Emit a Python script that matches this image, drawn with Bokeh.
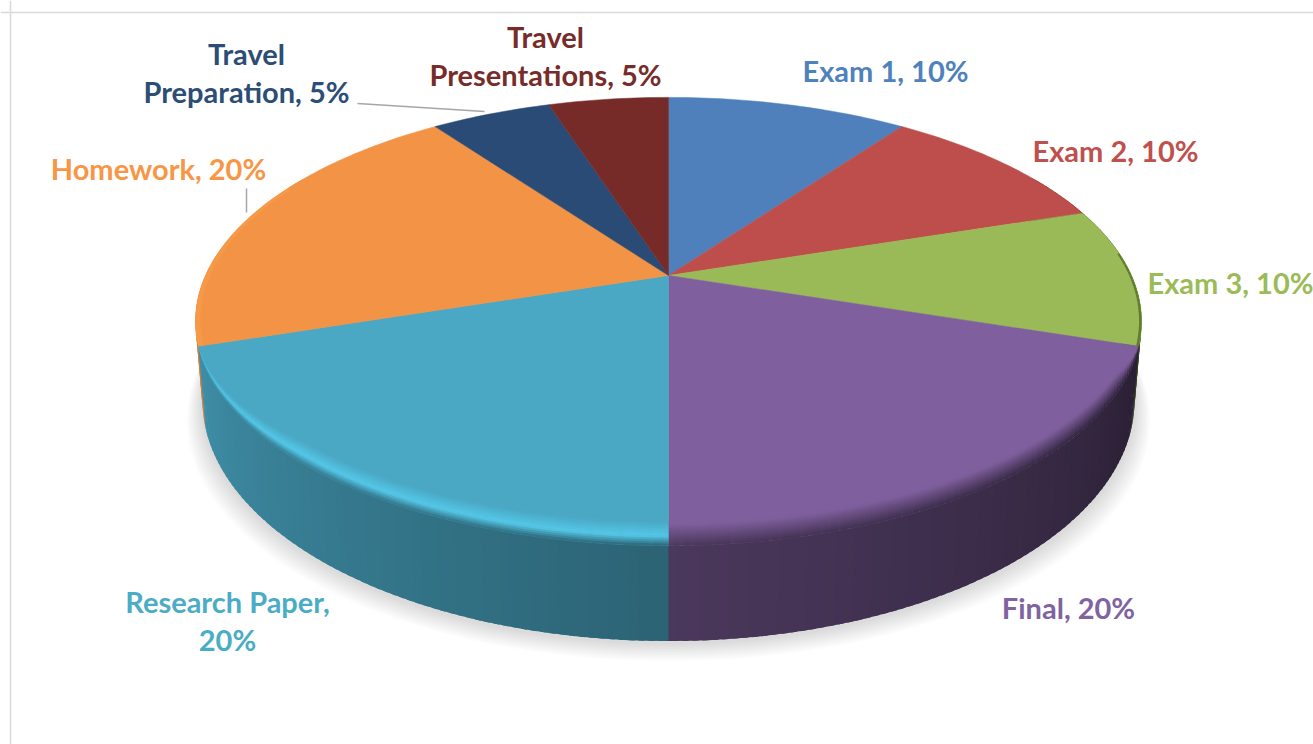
import math
from bokeh.plotting import figure
from bokeh.models import ColumnDataSource, Range1d, Span
from bokeh.core.properties import value
from bokeh.embed import file_html
from bokeh.resources import INLINE

categories = ["Exam 1", "Exam 2", "Exam 3", "Final", "Research Paper", "Homework",
              "Travel Preparation", "Travel Presentations"]
shares = [10, 10, 10, 20, 20, 20, 5, 5]
face_colors = ["#4F80BC", "#BD4E4B", "#9ABA58", "#7F5F9D", "#4AA8C5", "#F39345", "#2A4B75", "#772B29"]
label_colors = ["#4F81BD", "#C0504D", "#9BBB59", "#8064A2", "#4BACC6", "#F79646", "#2C4D75", "#772C2A"]
label_texts = ["Exam 1, 10%", "Exam 2, 10%", "Exam 3, 10%", "Final, 20%", "Research Paper,\n20%",
               "Homework, 20%", "Travel\nPreparation, 5%", "Travel\nPresentations, 5%"]
label_x = [885, 1115, 1230, 1068, 227, 158, 246, 545]
label_y = [70, 150, 282, 607, 620, 168, 72, 55]

# perspective model of the disc, in page pixels
CX, CY, A, B, K, DEPTH, SHRINK = 668, 275, 463, 214.6, 0.205, 76, 0.985


def top(deg, r=1.0, lift=0.0):
    t = math.radians(deg)
    u, v = r * math.sin(t), r * math.cos(t)
    w = 1 + K * v
    return CX + A * u / w, CY - B * v / w - lift / w


def bottom(deg, grow=1.0, drop=0.0):
    t = math.radians(deg)
    u, v = math.sin(t), math.cos(t)
    w = 1 + K * v
    return CX + A * SHRINK * grow * u / w, CY - B * v / w + DEPTH / w + drop


def rgb(h):
    return [int(h[i:i + 2], 16) for i in (1, 3, 5)]


def hexc(c):
    return "#%02x%02x%02x" % tuple(max(0, min(255, round(x))) for x in c)


def lerp(a, b, t):
    return [x + (y - x) * t for x, y in zip(a, b)]


def shade(base, deg):
    f = max(0.3, min(1.0, 0.59 + (deg - 180) * 0.0036))
    return [x * f for x in rgb(base)]


edges = [0]
for s in shares:
    edges.append(edges[-1] + s * 3.6)

p = figure(width=1313, height=744, x_range=Range1d(0, 1313), y_range=Range1d(744, 0),
           output_backend="svg", toolbar_location=None, min_border=0)
p.xaxis.visible = False
p.yaxis.visible = False
p.grid.visible = False
p.outline_line_color = None
p.background_fill_color = "white"

# chart frame
p.add_layout(Span(location=12, dimension="width", line_color="#D9D9D9", line_width=1.5))
p.add_layout(Span(location=10, dimension="height", line_color="#D9D9D9", line_width=1.5))

# soft shadow
for i in range(12):
    g = 1 + 0.0028 * (12 - i)
    d = 2 + 1.5 * (12 - i)
    pts = [bottom(a, g, d) for a in range(60, 301, 2)]
    p.patch([q[0] for q in pts], [q[1] for q in pts], fill_color="#808080", fill_alpha=0.025, line_color=None)


def slice_of(deg):
    for i in range(len(shares)):
        if edges[i] <= deg < edges[i + 1]:
            return i
    return len(shares) - 1


# side wall, back to front; neighbouring strips overlap so no seams show
xs, ys, cs = [], [], []
right = [(a, a + 1.6) for a in range(60, 180)]
left = [(max(a - 0.6, 180), a + 1) for a in range(299, 179, -1)]
for a0, a1 in right + left:
    mid = (a0 + a1) / 2
    base = face_colors[slice_of(mid)]
    p0, p1 = top(a0), top(a1)
    q1, q0 = bottom(a1), bottom(a0)
    xs.append([p0[0], p1[0], q1[0], q0[0]])
    ys.append([p0[1], p1[1], q1[1], q0[1]])
    cs.append(hexc(shade(base, mid)))
p.patches(xs="x", ys="y", fill_color="c", line_color=None,
          source=ColumnDataSource(dict(x=xs, y=ys, c=cs)))

# top faces
for i in range(len(shares)):
    n = max(2, int(shares[i] * 3.6))
    arc = [top(edges[i] + (edges[i + 1] - edges[i]) * j / n) for j in range(n + 1)]
    p.patch([CX] + [q[0] for q in arc], [CY] + [q[1] for q in arc],
            fill_color=face_colors[i], line_color=face_colors[i], line_width=0.5)

# rim bevel on the front slices
xs, ys, cs = [], [], []
STEPS = 12
for idx in (3, 4):
    lo, hi = int(edges[idx]), int(edges[idx + 1])
    base = rgb(face_colors[idx])
    for a in range(lo, hi):
        if idx == 4:
            taper = min(1.0, (edges[idx + 1] - a - 0.5) / 30)
        else:
            taper = min(1.0, (a + 0.5 - edges[idx]) / 12)
        side = shade(face_colors[idx], a + 0.5)
        for s in range(STEPS - 1, -1, -1):
            t0, t1 = s / STEPS, (s + 1) / STEPS
            tm = (t0 + t1) / 2
            if idx == 4:
                hl = rgb("#55C8E8")
                col = lerp(side, hl, tm / 0.4) if tm < 0.4 else lerp(hl, base, (tm - 0.4) / 0.6)
            else:
                col = lerp(side, base, min(1.0, tm / 0.9))
            h = 19 * taper
            e = a + 1.4 if a + 1.4 <= hi else hi
            a0, a1 = top(a, 1, h * t0 - 0.3), top(e, 1, h * t0 - 0.3)
            b1, b0 = top(e, 1, h * t1), top(a, 1, h * t1)
            xs.append([a0[0], a1[0], b1[0], b0[0]])
            ys.append([a0[1], a1[1], b1[1], b0[1]])
            cs.append(hexc(col))

# thin coloured edge on green and orange
for idx, tint, width in ((2, "#5E7C2C", 0.005), (5, "#F69A4A", 0.01)):
    lo, hi = int(edges[idx]), int(edges[idx + 1])
    for a in range(lo, hi):
        if idx == 5 and a > 295:
            continue
        if idx == 2 and a < 84:
            continue
        p0, p1, p2, p3 = top(a), top(a + 1), top(a + 1, 1 - width), top(a, 1 - width)
        xs.append([p0[0], p1[0], p2[0], p3[0]])
        ys.append([p0[1], p1[1], p2[1], p3[1]])
        cs.append(tint)
p.patches(xs="x", ys="y", fill_color="c", line_color=None,
          source=ColumnDataSource(dict(x=xs, y=ys, c=cs)))

# leader lines
p.line([357, 484], [103, 111], line_color="#A6A6A6", line_width=1.5)
p.line([246, 246], [188, 212], line_color="#A6A6A6", line_width=1.5)

# labels
p.text(x="x", y="y", text="t", text_color="c", text_font=value("Lato"), text_font_style="bold",
       text_font_size="29px", text_align="center", text_baseline="middle", text_line_height=1.1,
       source=ColumnDataSource(dict(x=label_x, y=label_y, t=label_texts, c=label_colors)))

open("out.html", "w").write(file_html(p, INLINE))
